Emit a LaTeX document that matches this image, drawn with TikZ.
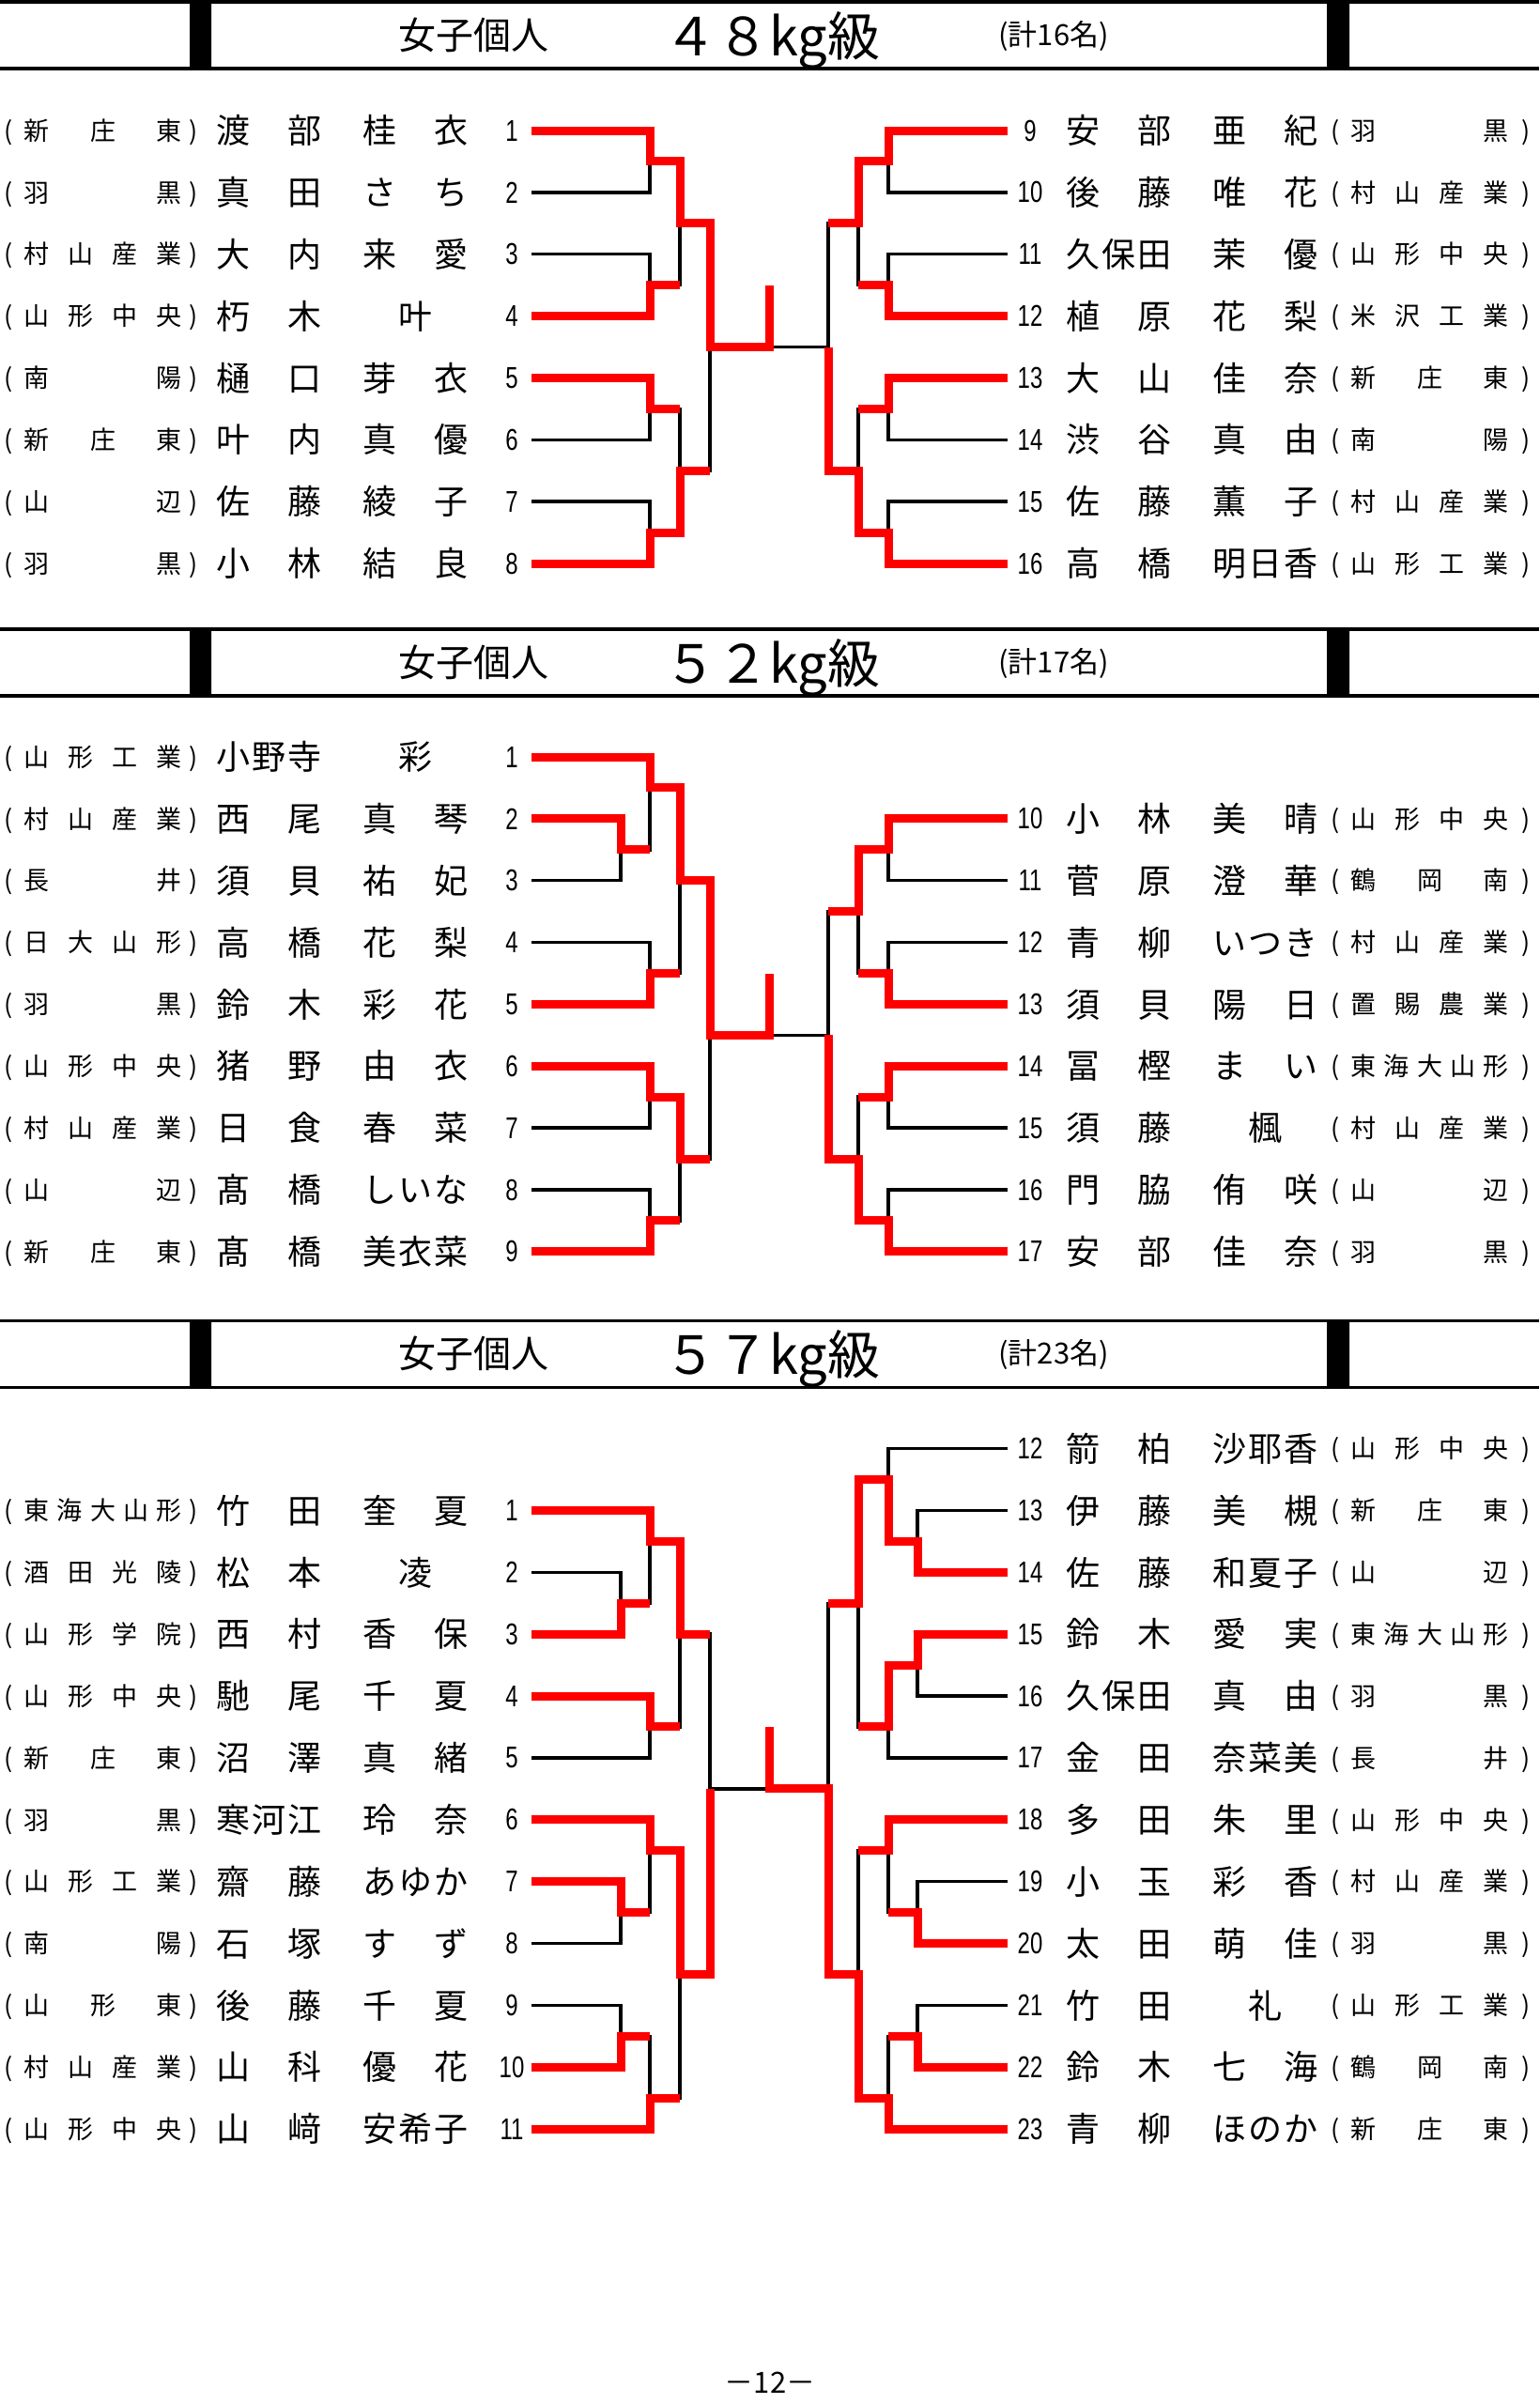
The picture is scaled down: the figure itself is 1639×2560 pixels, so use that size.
\documentclass[tikz,border=0pt]{standalone}
\usepackage{fontspec}
\setmainfont{Noto Sans CJK JP}
\newfontfamily\numfont[FakeStretch=0.75]{Liberation Sans}
\usetikzlibrary{positioning}

\def\spreadchars#1#2\relax{#1\ifx\relax#2\relax\else\hfill\spreadchars#2\relax\fi}
\newcommand\spreadbox[2]{\makebox[#1][s]{\hfil\expandafter\spreadchars#2\relax\hfil}}
\newcommand\fullname[2]{\spreadbox{56pt}{#1}\hspace{22pt}\spreadbox{56pt}{#2}}
\newcommand\school[2][4pt]{(\hspace{6pt}\spreadbox{84pt}{#2}\hspace{#1})}

\tikzset{
  bline/.style={line width=1.75pt},
  rline/.style={line width=4.5pt, draw=red},
  numlbl/.style={font=\numfont\fontsize{16pt}{16pt}\selectfont, inner sep=0pt},
  namelbl/.style={font=\fontsize{18pt}{18pt}\selectfont, inner sep=0pt, text height=15.84pt, text depth=2.16pt, anchor=west},
  schlbl/.style={font=\fontsize{13.5pt}{14pt}\selectfont, inner sep=0pt, text height=11.88pt, text depth=1.62pt, anchor=west},
  ttl/.style={font=\fontsize{20pt}{20pt}\selectfont, inner sep=0pt, anchor=base},
  wtlbl/.style={font=\fontsize{28pt}{28pt}\selectfont, inner sep=0pt, anchor=base},
  cntlbl/.style={font=\fontsize{15.5pt}{16pt}\selectfont, inner sep=0pt, anchor=base},
}

\begin{document}
\begin{tikzpicture}[x=0.5pt, y=-0.5pt]
  \fill[white] (0,0) rectangle (1639,2560);
  \useasboundingbox (0,0) rectangle (1639,2560);

  % section headers
  \foreach \yt/\wt/\cnt in {2/４８/16,670/５２/17,1406.6/５７/23}{
    \draw[bline] (0,\yt) -- (1639,\yt) (0,\yt+71) -- (1639,\yt+71);
    \fill (202,\yt) rectangle (225,\yt+71) (1413,\yt) rectangle (1437,\yt+71);
    \node[ttl] (ttl-\cnt) at (504,\yt+50) {女子個人};
    \node[wtlbl] (wt-\cnt) at (822,\yt+57) {\wt kg級};
    \node[cntlbl] (cnt-\cnt) at (1122,\yt+46) {(計\cnt 名)};
  }

  % 48kg
  \begin{scope}[y=-32.93pt, yshift=-36.57pt]
    \foreach \nr/\sch/\fa/\gi [count=\yy] in {1/新庄東/渡部/桂衣,2/羽黒/真田/さち,3/村山産業/大内/来愛,4/山形中央/朽木/叶,
      5/南陽/樋口/芽衣,6/新庄東/叶内/真優,7/山辺/佐藤/綾子,8/羽黒/小林/結良}{
      \node[schlbl] (sc48-\nr) at (4,\yy) {\school{\sch}};
      \node[namelbl] (nm48-\nr) at (230,\yy) {\fullname{\fa}{\gi}};
      \node[numlbl] (no48-\nr) at (545,\yy) {\nr};
      \coordinate (e48-\nr) at (566,\yy);
    }
    \foreach \nr/\sch/\fa/\gi [count=\yy] in {9/羽黒/安部/亜紀,10/村山産業/後藤/唯花,11/山形中央/久保田/茉優,12/米沢工業/植原/花梨,
      13/新庄東/大山/佳奈,14/南陽/渋谷/真由,15/村山産業/佐藤/薫子,16/山形工業/高橋/明日香}{
      \node[numlbl] (no48-\nr) at (1097,\yy) {\nr};
      \node[namelbl] (nm48-\nr) at (1135,\yy) {\fullname{\fa}{\gi}};
      \node[schlbl] (sc48-\nr) at (1417,\yy) {\school[7pt]{\sch}};
      \coordinate (e48-\nr) at (1073,\yy);
    }
    \coordinate (w48-12) at (692,1.5);
    \coordinate (w48-34) at (692,3.5);
    \coordinate (w48-56) at (692,5.5);
    \coordinate (w48-78) at (692,7.5);
    \coordinate (w48-1-4) at (724,2.5);
    \coordinate (w48-5-8) at (724,6.5);
    \coordinate (w48-L) at (756,4.5);
    \coordinate (w48-9-10) at (946,1.5);
    \coordinate (w48-11-12) at (946,3.5);
    \coordinate (w48-13-14) at (946,5.5);
    \coordinate (w48-15-16) at (946,7.5);
    \coordinate (w48-9-12) at (914,2.5);
    \coordinate (w48-13-16) at (914,6.5);
    \coordinate (w48-R) at (882,4.5);
    \coordinate (w48-C) at (819,4.5);
    \coordinate (w48-T) at (819,3.5);
    \foreach \a/\b/\m in {e48-1/e48-2/w48-12,e48-3/e48-4/w48-34,e48-5/e48-6/w48-56,e48-7/e48-8/w48-78,
      w48-12/w48-34/w48-1-4,w48-56/w48-78/w48-5-8,w48-1-4/w48-5-8/w48-L,
      e48-9/e48-10/w48-9-10,e48-11/e48-12/w48-11-12,e48-13/e48-14/w48-13-14,e48-15/e48-16/w48-15-16,
      w48-9-10/w48-11-12/w48-9-12,w48-13-14/w48-15-16/w48-13-16,w48-9-12/w48-13-16/w48-R}
      \draw[bline] (\a) -| (\m) (\b) -| (\m);
    \draw[bline] (w48-L) -- (w48-R);
    % winners
    \draw[rline] (e48-1) -| (w48-12) -| (w48-1-4) -| (w48-L) -- (w48-C) -- (w48-T);
    \draw[rline] (e48-4) -| (w48-34) -- (w48-34 -| w48-1-4);
    \draw[rline] (e48-5) -| (w48-56) -- (w48-56 -| w48-5-8);
    \draw[rline] (e48-8) -| (w48-78) -| (w48-5-8) -- (w48-5-8 -| w48-L);
    \draw[rline] (e48-9) -| (w48-9-10) -| (w48-9-12) -- (w48-9-12 -| w48-R);
    \draw[rline] (e48-12) -| (w48-11-12) -- (w48-11-12 -| w48-9-12);
    \draw[rline] (e48-13) -| (w48-13-14) -- (w48-13-14 -| w48-13-16);
    \draw[rline] (e48-16) -| (w48-15-16) -| (w48-13-16) -| (w48-R);
  \end{scope}

  % 52kg
  \begin{scope}[y=-32.93pt, yshift=-370.07pt]
    \foreach \nr/\sch/\fa/\gi [count=\yy] in {1/山形工業/小野寺/彩,2/村山産業/西尾/真琴,3/長井/須貝/祐妃,4/日大山形/高橋/花梨,
      5/羽黒/鈴木/彩花,6/山形中央/猪野/由衣,7/村山産業/日食/春菜,8/山辺/髙橋/しいな,9/新庄東/髙橋/美衣菜}{
      \node[schlbl] (sc52-\nr) at (4,\yy) {\school{\sch}};
      \node[namelbl] (nm52-\nr) at (230,\yy) {\fullname{\fa}{\gi}};
      \node[numlbl] (no52-\nr) at (545,\yy) {\nr};
      \coordinate (e52-\nr) at (566,\yy);
    }
    \foreach \nr/\sch/\fa/\gi [count=\yy from 2] in {10/山形中央/小林/美晴,11/鶴岡南/菅原/澄華,12/村山産業/青柳/いつき,13/置賜農業/須貝/陽日,
      14/東海大山形/冨樫/まい,15/村山産業/須藤/楓,16/山辺/門脇/侑咲,17/羽黒/安部/佳奈}{
      \node[numlbl] (no52-\nr) at (1097,\yy) {\nr};
      \node[namelbl] (nm52-\nr) at (1135,\yy) {\fullname{\fa}{\gi}};
      \node[schlbl] (sc52-\nr) at (1417,\yy) {\school[7pt]{\sch}};
      \coordinate (e52-\nr) at (1073,\yy);
    }
    \coordinate (w52-23) at (661,2.5);
    \coordinate (w52-1-3) at (692,1.5);
    \coordinate (w52-45) at (692,4.5);
    \coordinate (w52-1-5) at (724,3);
    \coordinate (w52-67) at (692,6.5);
    \coordinate (w52-89) at (692,8.5);
    \coordinate (w52-6-9) at (724,7.5);
    \coordinate (w52-L) at (756,5.5);
    \coordinate (w52-10-11) at (946,2.5);
    \coordinate (w52-12-13) at (946,4.5);
    \coordinate (w52-10-13) at (914,3.5);
    \coordinate (w52-14-15) at (946,6.5);
    \coordinate (w52-16-17) at (946,8.5);
    \coordinate (w52-14-17) at (914,7.5);
    \coordinate (w52-R) at (882,5.5);
    \coordinate (w52-C) at (819,5.5);
    \coordinate (w52-T) at (819,4.5);
    \foreach \a/\b/\m in {e52-2/e52-3/w52-23,e52-1/w52-23/w52-1-3,e52-4/e52-5/w52-45,w52-1-3/w52-45/w52-1-5,
      e52-6/e52-7/w52-67,e52-8/e52-9/w52-89,w52-67/w52-89/w52-6-9,w52-1-5/w52-6-9/w52-L,
      e52-10/e52-11/w52-10-11,e52-12/e52-13/w52-12-13,w52-10-11/w52-12-13/w52-10-13,
      e52-14/e52-15/w52-14-15,e52-16/e52-17/w52-16-17,w52-14-15/w52-16-17/w52-14-17,w52-10-13/w52-14-17/w52-R}
      \draw[bline] (\a) -| (\m) (\b) -| (\m);
    \draw[bline] (w52-L) -- (w52-R);
    % winners
    \draw[rline] (e52-1) -| (w52-1-3) -| (w52-1-5) -| (w52-L) -- (w52-C) -- (w52-T);
    \draw[rline] (e52-2) -| (w52-23) -- (w52-23 -| w52-1-3);
    \draw[rline] (e52-5) -| (w52-45) -- (w52-45 -| w52-1-5);
    \draw[rline] (e52-6) -| (w52-67) -| (w52-6-9) -- (w52-6-9 -| w52-L);
    \draw[rline] (e52-9) -| (w52-89) -- (w52-89 -| w52-6-9);
    \draw[rline] (e52-10) -| (w52-10-11) -| (w52-10-13) -- (w52-10-13 -| w52-R);
    \draw[rline] (e52-13) -| (w52-12-13) -- (w52-12-13 -| w52-10-13);
    \draw[rline] (e52-14) -| (w52-14-15) -- (w52-14-15 -| w52-14-17);
    \draw[rline] (e52-17) -| (w52-16-17) -| (w52-14-17) -| (w52-R);
  \end{scope}

  % 57kg
  \begin{scope}[y=-32.93pt, yshift=-771.3pt]
    \foreach \nr/\sch/\fa/\gi [count=\yy] in {1/東海大山形/竹田/奎夏,2/酒田光陵/松本/凌,3/山形学院/西村/香保,4/山形中央/馳尾/千夏,
      5/新庄東/沼澤/真緒,6/羽黒/寒河江/玲奈,7/山形工業/齋藤/あゆか,8/南陽/石塚/すず,9/山形東/後藤/千夏,
      10/村山産業/山科/優花,11/山形中央/山﨑/安希子}{
      \node[schlbl] (sc57-\nr) at (4,\yy) {\school{\sch}};
      \node[namelbl] (nm57-\nr) at (230,\yy) {\fullname{\fa}{\gi}};
      \node[numlbl] (no57-\nr) at (545,\yy) {\nr};
      \coordinate (e57-\nr) at (566,\yy);
    }
    \foreach \nr/\sch/\fa/\gi [count=\yy from 0] in {12/山形中央/箭柏/沙耶香,13/新庄東/伊藤/美槻,14/山辺/佐藤/和夏子,
      15/東海大山形/鈴木/愛実,16/羽黒/久保田/真由,17/長井/金田/奈菜美,18/山形中央/多田/朱里,19/村山産業/小玉/彩香,
      20/羽黒/太田/萌佳,21/山形工業/竹田/礼,22/鶴岡南/鈴木/七海,23/新庄東/青柳/ほのか}{
      \node[numlbl] (no57-\nr) at (1097,\yy) {\nr};
      \node[namelbl] (nm57-\nr) at (1135,\yy) {\fullname{\fa}{\gi}};
      \node[schlbl] (sc57-\nr) at (1417,\yy) {\school[7pt]{\sch}};
      \coordinate (e57-\nr) at (1073,\yy);
    }
    \coordinate (w57-23) at (661,2.5);
    \coordinate (w57-1-3) at (692,1.5);
    \coordinate (w57-45) at (692,4.5);
    \coordinate (w57-1-5) at (724,3);
    \coordinate (w57-78) at (661,7.5);
    \coordinate (w57-6-8) at (692,6.5);
    \coordinate (w57-9-10) at (661,9.5);
    \coordinate (w57-9-11) at (692,10.5);
    \coordinate (w57-6-11) at (724,8.5);
    \coordinate (w57-L) at (756,5.5);
    \coordinate (w57-13-14) at (977,1.5);
    \coordinate (w57-12-14) at (946,0.5);
    \coordinate (w57-15-16) at (977,3.5);
    \coordinate (w57-15-17) at (946,4.5);
    \coordinate (w57-12-17) at (914,2.5);
    \coordinate (w57-19-20) at (977,7.5);
    \coordinate (w57-18-20) at (946,6.5);
    \coordinate (w57-21-22) at (977,9.5);
    \coordinate (w57-21-23) at (946,10.5);
    \coordinate (w57-18-23) at (914,8.5);
    \coordinate (w57-R) at (882,5.5);
    \coordinate (w57-C) at (819,5.5);
    \coordinate (w57-T) at (819,4.5);
    \foreach \a/\b/\m in {e57-2/e57-3/w57-23,e57-1/w57-23/w57-1-3,e57-4/e57-5/w57-45,w57-1-3/w57-45/w57-1-5,
      e57-7/e57-8/w57-78,e57-6/w57-78/w57-6-8,e57-9/e57-10/w57-9-10,w57-9-10/e57-11/w57-9-11,
      w57-6-8/w57-9-11/w57-6-11,w57-1-5/w57-6-11/w57-L,
      e57-13/e57-14/w57-13-14,e57-12/w57-13-14/w57-12-14,e57-15/e57-16/w57-15-16,w57-15-16/e57-17/w57-15-17,
      w57-12-14/w57-15-17/w57-12-17,e57-19/e57-20/w57-19-20,e57-18/w57-19-20/w57-18-20,e57-21/e57-22/w57-21-22,
      w57-21-22/e57-23/w57-21-23,w57-18-20/w57-21-23/w57-18-23,w57-12-17/w57-18-23/w57-R}
      \draw[bline] (\a) -| (\m) (\b) -| (\m);
    \draw[bline] (w57-L) -- (w57-R);
    % winners
    \draw[rline] (e57-1) -| (w57-1-3) -| (w57-1-5) -- (w57-1-5 -| w57-L);
    \draw[rline] (e57-3) -| (w57-23) -- (w57-23 -| w57-1-3);
    \draw[rline] (e57-4) -| (w57-45) -- (w57-45 -| w57-1-5);
    \draw[rline] (e57-6) -| (w57-6-8) -| (w57-6-11) -| (w57-L);
    \draw[rline] (e57-7) -| (w57-78) -- (w57-78 -| w57-6-8);
    \draw[rline] (e57-10) -| (w57-9-10) -- (w57-9-10 -| w57-9-11);
    \draw[rline] (e57-11) -| (w57-9-11) -- (w57-9-11 -| w57-6-11);
    \draw[rline] (e57-14) -| (w57-13-14) -| (w57-12-14) -| (w57-12-17) -- (w57-12-17 -| w57-R);
    \draw[rline] (e57-15) -| (w57-15-16) -| (w57-15-17) -- (w57-15-17 -| w57-12-17);
    \draw[rline] (e57-18) -| (w57-18-20) -- (w57-18-20 -| w57-18-23);
    \draw[rline] (e57-20) -| (w57-19-20) -- (w57-19-20 -| w57-18-20);
    \draw[rline] (e57-22) -| (w57-21-22) -- (w57-21-22 -| w57-21-23);
    \draw[rline] (e57-23) -| (w57-21-23) -| (w57-18-23) -| (w57-R) -- (w57-C) -- (w57-T);
  \end{scope}

  \node[cntlbl] (page) at (820,2548) {－12－};
\end{tikzpicture}
\end{document}
